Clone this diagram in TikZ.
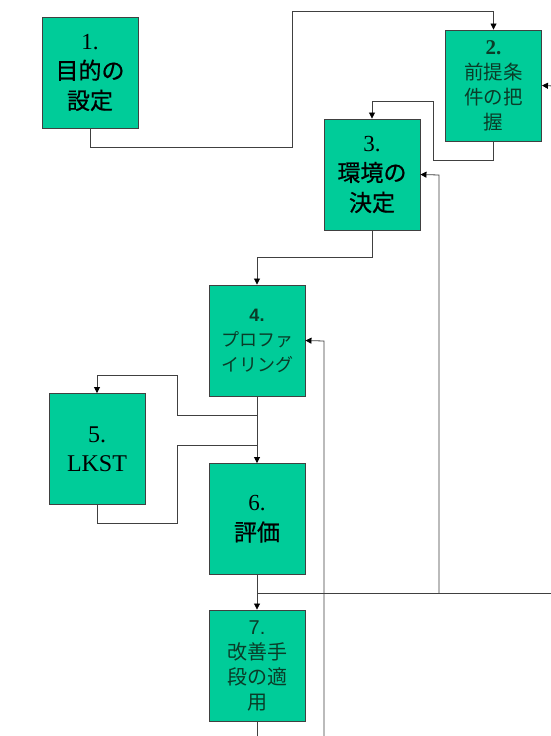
\documentclass[tikz,border=0pt]{standalone}
\usepackage{fontspec}
\setmainfont{Liberation Serif}
\setsansfont{Liberation Sans}
\newfontfamily\jp{Noto Sans CJK JP}
\newfontfamily\jpm[FakeBold=0.7]{Noto Sans CJK JP}
\usetikzlibrary{arrows.meta}
\definecolor{boxgreen}{RGB}{0,204,153}
\definecolor{darktxt}{RGB}{10,60,40}
\begin{document}
\begin{tikzpicture}[x=1pt,y=-1pt,
  box/.style={draw=black!75, line width=0.9pt, fill=boxgreen,
    minimum width=96pt, minimum height=111pt, inner sep=0pt, align=center, text=black},
  big/.style={font=\fontsize{23}{30}\selectfont\jpm},
  small/.style={font=\fontsize{19.5}{25}\selectfont\jp, text=darktxt},
  conn/.style={draw=black!75, line width=0.8pt},
  arr/.style={conn, -{Triangle[length=6pt,width=6pt,fill=black,color=black]}}]
\useasboundingbox[fill=white] (0,0) rectangle (550,736);

\node[box,big] (b1) at (90,72.5) {{\rmfamily 1.}\\目的の\\設定};
\node[box,small] (b2) at (493.5,85.5) {{\fontsize{21}{25}\selectfont\rmfamily\bfseries 2.}\\前提条\\件の把\\握};
\node[box,big] (b3) at (372,174.5) {{\rmfamily 3.}\\環境の\\決定};
\node[box,font=\fontsize{18}{25}\selectfont\jp, text=darktxt] (b4) at (257,340.5) {{\sffamily\bfseries 4.}\\プロファ\\イリング};
\node[box,font=\fontsize{24}{29}\selectfont\rmfamily] (b5) at (97,449) {5.\\LKST};
\node[box,big] (b6) at (257,519) {{\rmfamily 6.}\\評価};
\node[box,small,font=\fontsize{20}{25}\selectfont\jp] (b7) at (257,665.5) {{\sffamily 7.}\\改善手\\段の適\\用};

\coordinate (bot7) at (257,740);
\coordinate (bot4) at (324,740);
\coordinate (right6) at (554,593);
\coordinate (right2) at (554,86);

% 1 -> 2
\draw[arr] (b1.south) -- (90,147) -- (292,147) -- (292,11) -- (493.5,11) -- (b2.north);
% 2 -> 3
\draw[arr] (b2.south) -- (493.5,160) -- (433,160) -- (433,101) -- (372,101) -- (b3.north);
% 3 -> 4
\draw[arr] (b3.south) -- (372,257) -- (257,257) -- (b4.north);
% 4 -> 6
\draw[arr] (b4.south) -- (b6.north);
% 4 -> 5
\draw[arr] (257,415) -- (177,415) -- (177,375) -- (97,375) -- (b5.north);
% 5 -> 6
\draw[conn] (b5.south) -- (97,523) -- (177,523) -- (177,445) -- (257,445);
% 6 -> 7
\draw[arr] (b6.south) -- (b7.north);
% 6 -> right / 3
\draw[conn] (257,593) -- (right6);
\draw[arr] (439,593) -- (439,175) -- (b3.east);
% right -> 2
\draw[arr] (right2) -- (b2.east);
% 7 -> down
\draw[conn] (b7.south) -- (bot7);
% bottom -> 4
\draw[arr] (bot4) -- (324,341) -- (b4.east);
\end{tikzpicture}
\end{document}
